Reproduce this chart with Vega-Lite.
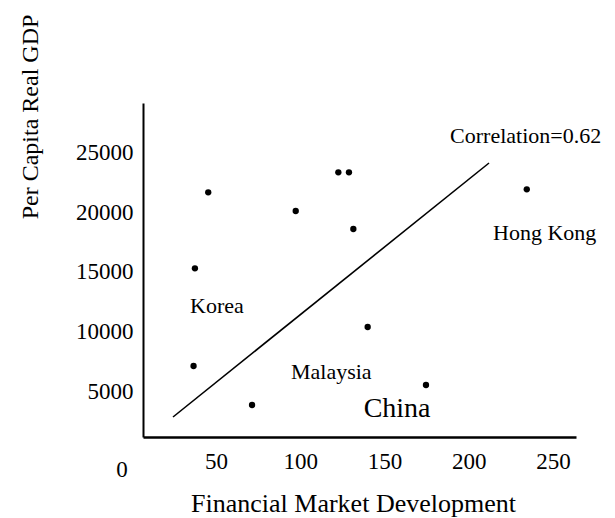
{
  "$schema": "https://vega.github.io/schema/vega-lite/v6.json",
  "width": 433,
  "height": 334,
  "autosize": "none",
  "padding": {"left": 143, "top": 103, "right": 39, "bottom": 81},
  "background": "white",
  "config": {
    "view": {"stroke": null},
    "font": "Liberation Serif"
  },
  "datasets": {
    "points": [
      {"x": 45.4, "y": 21675},
      {"x": 122.6, "y": 23350},
      {"x": 128.9, "y": 23350},
      {"x": 97.3, "y": 20109},
      {"x": 131.5, "y": 18601},
      {"x": 37.5, "y": 15310},
      {"x": 234.4, "y": 21926},
      {"x": 140.0, "y": 10394},
      {"x": 36.7, "y": 7127},
      {"x": 71.4, "y": 3861},
      {"x": 174.6, "y": 5536}
    ],
    "fit": [
      {"x": 24.5, "y": 2856},
      {"x": 212.0, "y": 24129}
    ],
    "labels": [
      {"x": 34.6, "y": 12152, "label": "Korea"},
      {"x": 94.5, "y": 6625, "label": "Malaysia"},
      {"x": 214.4, "y": 18266, "label": "Hong Kong"},
      {"x": 188.9, "y": 26390, "label": "Correlation=0.62"}
    ],
    "corner": [
      {"x": -5.8, "y": -1583, "label": "0"}
    ],
    "big": [
      {"x": 137.6, "y": 3526, "label": "China"}
    ]
  },
  "encoding": {
    "x": {
      "field": "x",
      "type": "quantitative",
      "scale": {"domain": [6.7, 263.6], "nice": false, "zero": false},
      "axis": {
        "values": [50, 100, 150, 200, 250],
        "grid": false,
        "ticks": false,
        "tickSize": 0,
        "domainColor": "black",
        "domainWidth": 2.5,
        "labelFont": "Liberation Serif",
        "labelFontSize": 23,
        "labelColor": "black",
        "labelBaseline": "alphabetic",
        "labelPadding": 31,
        "labelFlush": false,
        "labelOverlap": false,
        "title": "Financial Market Development",
        "titleFont": "Liberation Serif",
        "titleFontSize": 26,
        "titleFontWeight": "normal",
        "titleColor": "black",
        "titleAlign": "center",
        "titleBaseline": "alphabetic",
        "titleX": 210,
        "titleY": 74
      }
    },
    "y": {
      "field": "y",
      "type": "quantitative",
      "scale": {"domain": [1181, 29154], "nice": false, "zero": false},
      "axis": {
        "values": [5000, 10000, 15000, 20000, 25000],
        "format": "d",
        "grid": false,
        "ticks": false,
        "tickSize": 0,
        "domainColor": "black",
        "domainWidth": 2,
        "labelFont": "Liberation Serif",
        "labelFontSize": 23,
        "labelColor": "black",
        "labelPadding": 10,
        "labelFlush": false,
        "labelOverlap": false,
        "title": "Per Capita Real GDP",
        "titleFont": "Liberation Serif",
        "titleFontSize": 24,
        "titleFontWeight": "normal",
        "titleColor": "black",
        "titleAngle": -90,
        "titleAlign": "center",
        "titleBaseline": "alphabetic",
        "titleX": -106,
        "titleY": 13.5
      }
    }
  },
  "layer": [
    {
      "data": {"name": "fit"},
      "mark": {"type": "line", "color": "black", "strokeWidth": 1.6}
    },
    {
      "data": {"name": "points"},
      "mark": {"type": "circle", "color": "black", "opacity": 1, "size": 40}
    },
    {
      "data": {"name": "labels"},
      "mark": {"type": "text", "font": "Liberation Serif", "fontSize": 22, "align": "left", "baseline": "middle", "color": "black"},
      "encoding": {"text": {"field": "label"}}
    },
    {
      "data": {"name": "corner"},
      "mark": {"type": "text", "font": "Liberation Serif", "fontSize": 23, "align": "center", "baseline": "middle", "color": "black"},
      "encoding": {"text": {"field": "label"}}
    },
    {
      "data": {"name": "big"},
      "mark": {"type": "text", "font": "Liberation Serif", "fontSize": 28, "align": "left", "baseline": "middle", "color": "black"},
      "encoding": {"text": {"field": "label"}}
    }
  ]
}
